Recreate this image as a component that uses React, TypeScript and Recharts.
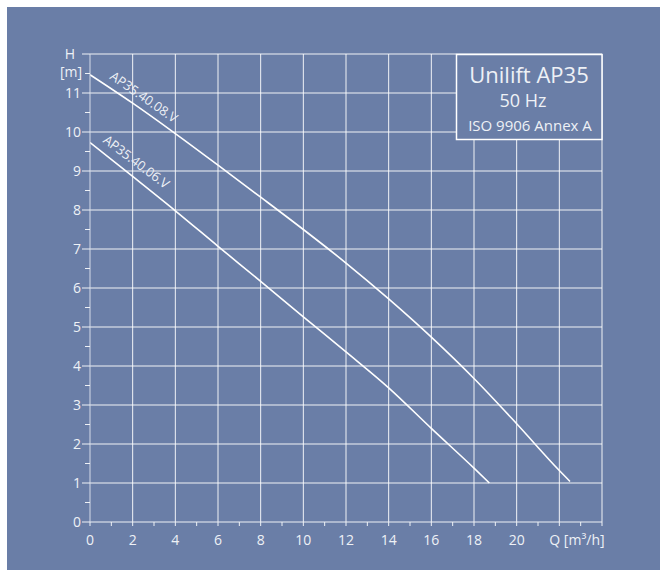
import React from 'react';
import { LineChart, Line, XAxis, YAxis, ReferenceLine } from 'recharts';

// pump curves: Q in m³/h, H in m
const flowQ08 = [0, 2, 4, 6, 8, 10, 12, 14, 16, 18, 20, 22, 22.5];
const head08 = [11.47, 10.74, 9.96, 9.15, 8.33, 7.5, 6.64, 5.72, 4.74, 3.68, 2.52, 1.32, 1.04];
const flowQ06 = [0, 2, 4, 6, 8, 10, 12, 14, 16, 18, 18.72];
const head06 = [9.73, 8.86, 7.98, 7.07, 6.17, 5.26, 4.36, 3.44, 2.4, 1.38, 1.0];

const curveNames = ['AP35.40.08.V', 'AP35.40.06.V'];
const titleLines = ['Unilift AP35', '50 Hz', 'ISO 9906 Annex A'];

const xTicks = [0, 1, 2, 3, 4, 5, 6, 7, 8, 9, 10, 11, 12, 13, 14, 15, 16, 17, 18, 19, 20, 21, 22, 23, 24];
const yTicks = [0, 0.5, 1, 1.5, 2, 2.5, 3, 3.5, 4, 4.5, 5, 5.5, 6, 6.5, 7, 7.5, 8, 8.5, 9, 9.5, 10, 10.5, 11, 11.5, 12];
const gridX = [2, 4, 6, 8, 10, 12, 14, 16, 18, 20, 22, 24];
const gridY = [1, 2, 3, 4, 5, 6, 7, 8, 9, 10, 11, 12];

const data08 = flowQ08.map((q, i) => ({ q, h: head08[i] }));
const data06 = flowQ06.map((q, i) => ({ q, h: head06[i] }));

const BG = '#6a7ea7';
const INK = '#eef1f6';
const FONT = '"Open Sans", sans-serif';

const XTick = (props: any) => {
  const { x, y, payload } = props;
  const v = payload.value;
  return (
    <g>
      <line x1={x} x2={x} y1={y} y2={y + 4} stroke={INK} strokeWidth={1} />
      {v % 2 === 0 && v <= 20 && (
        <text x={x} y={y + 23} textAnchor="middle" fill={INK} fontSize={14} fontFamily={FONT}>
          {v}
        </text>
      )}
      {v === 22 && (
        <text x={x - 10} y={y + 23} textAnchor="start" fill={INK} fontSize={14} fontFamily={FONT}>
          Q [m³/h]
        </text>
      )}
    </g>
  );
};

const YTick = (props: any) => {
  const { x, y, payload } = props;
  const v = payload.value;
  const major = Number.isInteger(v);
  return (
    <g>
      <line x1={x - (major ? 8 : 5)} x2={x} y1={y} y2={y} stroke={INK} strokeWidth={1} />
      {major && v <= 11 && (
        <text x={x - 9} y={y + 5} textAnchor="end" fill={INK} fontSize={14} fontFamily={FONT}>
          {v}
        </text>
      )}
      {v === 12 && (
        <text x={x - 20} y={y + 5} textAnchor="middle" fill={INK} fontSize={14} fontFamily={FONT}>
          H
        </text>
      )}
      {v === 11.5 && (
        <text x={x - 8} y={y + 3} textAnchor="end" fill={INK} fontSize={14} fontFamily={FONT}>
          [m]
        </text>
      )}
    </g>
  );
};

// rotated curve name, anchored to the point at Q = 2
const curveLabel = (text: string, atValue: number, dx: number, dy: number, angle: number) => (props: any) => {
  const { x, y, index, value } = props;
  if (index !== 1 && value !== atValue) return null;
  if (x == null || y == null) return null;
  const cx = x + dx;
  const cy = y + dy;
  return (
    <text
      x={cx}
      y={cy}
      transform={`rotate(${angle}, ${cx}, ${cy})`}
      textAnchor="middle"
      dominantBaseline="central"
      fill={INK}
      fontSize={13}
      fontFamily={FONT}
    >
      {text}
    </text>
  );
};

export default function App() {
  return (
    <div style={{ position: 'absolute', left: 7, top: 7, width: 653, height: 563, background: BG }}>
      <LineChart width={653} height={563} data={data08} margin={{ top: 47, right: 58, bottom: 18, left: 0 }}>
        <XAxis
          dataKey="q"
          type="number"
          domain={[0, 24]}
          ticks={xTicks}
          interval={0}
          tick={<XTick />}
          tickLine={false}
          tickSize={0}
          tickMargin={0}
          axisLine={{ stroke: INK }}
          height={30}
          allowDataOverflow
        />
        <YAxis
          type="number"
          domain={[0, 12]}
          ticks={yTicks}
          interval={0}
          tick={<YTick />}
          tickLine={false}
          tickSize={0}
          tickMargin={0}
          axisLine={{ stroke: '#d4dae8' }}
          width={83}
          allowDataOverflow
        />
        {gridX.map((v) => (
          <ReferenceLine key={'gx' + v} x={v} stroke="#ffffff" strokeOpacity={0.9} strokeWidth={1} />
        ))}
        {gridY.map((v) => (
          <ReferenceLine key={'gy' + v} y={v} stroke="#ffffff" strokeOpacity={0.9} strokeWidth={1} />
        ))}
        <Line
          data={data08}
          dataKey="h"
          type="monotone"
          stroke="#ffffff"
          strokeWidth={1.6}
          dot={false}
          isAnimationActive={false}
          label={curveLabel(curveNames[0], head08[1], 11.5, -6.5, 35)}
        />
        <Line
          data={data06}
          dataKey="h"
          type="monotone"
          stroke="#ffffff"
          strokeWidth={1.6}
          dot={false}
          isAnimationActive={false}
          label={curveLabel(curveNames[1], head06[1], 4, -15, 37)}
        />
      </LineChart>
      <svg width={653} height={563} style={{ position: 'absolute', left: 0, top: 0, pointerEvents: 'none' }}>
        <rect x={449.5} y={47.5} width={145.5} height={85} fill={BG} stroke="#ffffff" strokeWidth={1.5} />
        <text x={522} y={76.3} textAnchor="middle" fill={INK} fontSize={22} fontFamily={FONT}>
          {titleLines[0]}
        </text>
        <text x={516} y={99.7} textAnchor="middle" fill={INK} fontSize={18} fontFamily={FONT}>
          {titleLines[1]}
        </text>
        <text x={523} y={124} textAnchor="middle" fill={INK} fontSize={15} fontFamily={FONT}>
          {titleLines[2]}
        </text>
      </svg>
    </div>
  );
}
